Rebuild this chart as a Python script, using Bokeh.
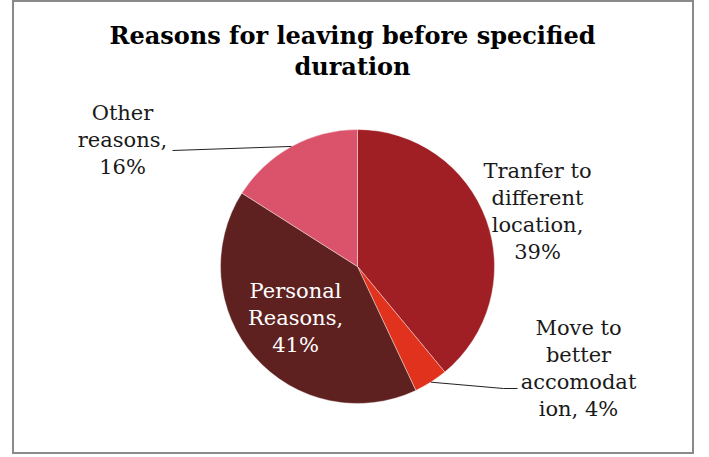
import math
from bokeh.plotting import figure
from bokeh.models import Range1d, ColumnDataSource
from bokeh.core.properties import value
from bokeh.embed import file_html
from bokeh.resources import INLINE

# ---- data ----
categories = ["Tranfer to different location", "Move to better accomodation",
              "Personal Reasons", "Other reasons"]
percent = [39, 4, 41, 16]
colors = ["#A01F24", "#E1321E", "#5F2120", "#DA536B"]
label_lines = [["Tranfer to", "different", "location,", "39%"],
               ["Move to", "better", "accomodat", "ion, 4%"],
               ["Personal", "Reasons,", "41%"],
               ["Other", "reasons,", "16%"]]
title_lines = ["Reasons for leaving before specified", "duration"]

# ---- layout (page pixel coordinates) ----
X0, X1, Y0, Y1 = 12, 694, 0, 454
def Y(py):
    return Y1 - py

cx, cy, r = 357, 266, 137
label_pos = [(537, 170), (578, 327), (295, 290), (122, 112)]
label_color = ["#1a1a1a", "#1a1a1a", "#ffffff", "#1a1a1a"]
line_h = 27
serif = "DejaVu Serif"

p = figure(width=X1 - X0, height=Y1 - Y0, output_backend="svg", toolbar_location=None,
           x_range=Range1d(X0, X1), y_range=Range1d(0, Y1 - Y0),
           min_border=0, x_axis_location=None, y_axis_location=None,
           margin=(0, 0, 0, 12))
p.grid.visible = False
p.outline_line_color = "#8a8a8a"
p.outline_line_width = 3
p.background_fill_color = "white"
p.border_fill_color = "white"

# wedges clockwise from 12 o'clock
total = sum(percent)
starts, ends, mids = [], [], []
acc = 0.0
for v in percent:
    a0 = math.pi / 2 - 2 * math.pi * acc / total
    acc += v
    a1 = math.pi / 2 - 2 * math.pi * acc / total
    starts.append(a0)
    ends.append(a1)
    mids.append((a0 + a1) / 2)

src = ColumnDataSource(dict(start=ends, end=starts, color=colors, cat=categories, pct=percent))
p.wedge(x=cx, y=Y(cy), radius=r, start_angle="start", end_angle="end",
        fill_color="color", line_color="white", line_width=0.4, source=src)

# leader lines for outside labels (Move, Other)
def edge(i):
    return cx + r * math.cos(mids[i]), cy - r * math.sin(mids[i])

ex, ey = edge(1)
p.line([ex, 503, 517], [Y(ey), Y(388), Y(388)], line_color="#222222", line_width=1)
ex, ey = edge(3)
p.line([172, ex], [Y(150), Y(ey)], line_color="#222222", line_width=1)

# labels
xs, ys, ts, cs = [], [], [], []
for (lx, ly), lines, c in zip(label_pos, label_lines, label_color):
    for k, t in enumerate(lines):
        xs.append(lx)
        ys.append(Y(ly + k * line_h))
        ts.append(t)
        cs.append(c)
p.text(x=xs, y=ys, text=ts, text_color=cs, text_font=value(serif), text_font_size="21px",
       text_align="center", text_baseline="middle")

# title
p.text(x=[352, 352], y=[Y(35), Y(66)], text=title_lines, text_font=value(serif),
       text_font_style="bold", text_font_size="24px", text_color="#000000",
       text_align="center", text_baseline="middle")

open("out.html", "w").write(file_html(p, INLINE))
